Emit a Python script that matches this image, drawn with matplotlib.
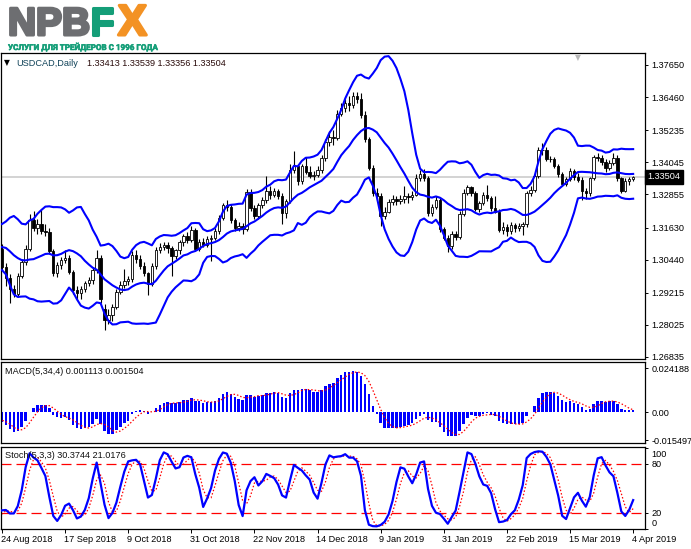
import numpy as np
import pandas as pd
import matplotlib
matplotlib.use("Agg")
import matplotlib.pyplot as plt
import matplotlib.patheffects as pe
from matplotlib.transforms import blended_transform_factory, ScaledTranslation

# ---------------- data ----------------
# bars before the visible window (needed for the indicators)
lead_open = [1.3300, 1.3280, 1.3145, 1.3185, 1.3150, 1.3140, 1.3120, 1.3075, 1.3115, 1.3130,
             1.3175, 1.3140, 1.3155, 1.3165, 1.3185, 1.3200, 1.3235, 1.3145, 1.3170, 1.3125,
             1.3110, 1.3085, 1.3070, 1.3040, 1.3050, 1.3030, 1.3020, 1.3035, 1.3020, 1.3110,
             1.3120, 1.3135, 1.3140, 1.3100, 1.3145, 1.3140, 1.3090, 1.3060, 1.3050, 1.3060]
lead_high = [1.3320, 1.3295, 1.3200, 1.3195, 1.3170, 1.3160, 1.3135, 1.3125, 1.3145, 1.3185,
             1.3190, 1.3165, 1.3175, 1.3190, 1.3210, 1.3250, 1.3260, 1.3180, 1.3185, 1.3140,
             1.3125, 1.3100, 1.3085, 1.3065, 1.3060, 1.3045, 1.3050, 1.3045, 1.3125, 1.3135,
             1.3150, 1.3160, 1.3150, 1.3155, 1.3160, 1.3150, 1.3100, 1.3075, 1.3075, 1.3095]
lead_low = [1.3260, 1.3130, 1.3135, 1.3135, 1.3120, 1.3105, 1.3065, 1.3065, 1.3105, 1.3120,
            1.3130, 1.3125, 1.3140, 1.3155, 1.3175, 1.3190, 1.3140, 1.3140, 1.3115, 1.3100,
            1.3075, 1.3060, 1.3030, 1.3030, 1.3020, 1.3005, 1.3010, 1.3000, 1.3010, 1.3095,
            1.3110, 1.3125, 1.3090, 1.3090, 1.3125, 1.3080, 1.3050, 1.3040, 1.3040, 1.3050]
lead_close = [1.3280, 1.3145, 1.3185, 1.3150, 1.3140, 1.3120, 1.3075, 1.3115, 1.3130, 1.3175,
              1.3140, 1.3155, 1.3165, 1.3185, 1.3200, 1.3235, 1.3145, 1.3170, 1.3125, 1.3110,
              1.3085, 1.3070, 1.3040, 1.3050, 1.3030, 1.3020, 1.3035, 1.3020, 1.3110, 1.3120,
              1.3135, 1.3140, 1.3100, 1.3145, 1.3140, 1.3090, 1.3060, 1.3050, 1.3060, 1.3085]

# visible bars, 24 Aug 2018 ... 4 Apr 2019
bar_open = [1.3085, 1.3015, 1.2975, 1.2935, 1.2918, 1.2985, 1.3035, 1.3085, 1.3190, 1.3160,
            1.3175, 1.3150, 1.3145, 1.3075, 1.2995, 1.3025, 1.3043, 1.3050, 1.2997, 1.2932,
            1.2920, 1.2935, 1.2956, 1.2969, 1.3006, 1.3050, 1.2860, 1.2820, 1.2840, 1.2870,
            1.2925, 1.2950, 1.2965, 1.2972, 1.3062, 1.3045, 1.3022, 1.2995, 1.2955, 1.3020,
            1.3080, 1.3092, 1.3100, 1.3088, 1.3058, 1.3078, 1.3110, 1.3130, 1.3118, 1.3155,
            1.3085, 1.3110, 1.3100, 1.3122, 1.3125, 1.3150, 1.3200, 1.3245, 1.3240, 1.3190,
            1.3160, 1.3170, 1.3158, 1.3295, 1.3235, 1.3205, 1.3245, 1.3265, 1.3300, 1.3285,
            1.3300, 1.3280, 1.3215, 1.3260, 1.3375, 1.3390, 1.3335, 1.3390, 1.3370, 1.3355,
            1.3358, 1.3375, 1.3420, 1.3480, 1.3500, 1.3495, 1.3585, 1.3605, 1.3625, 1.3615,
            1.3650, 1.3640, 1.3580, 1.3490, 1.3385, 1.3290, 1.3280, 1.3205, 1.3222, 1.3258,
            1.3270, 1.3262, 1.3268, 1.3280, 1.3275, 1.3285, 1.3348, 1.3362, 1.3345, 1.3215,
            1.3240, 1.3265, 1.3158, 1.3125, 1.3095, 1.3138, 1.3128, 1.3212, 1.3290, 1.3312,
            1.3290, 1.3232, 1.3255, 1.3285, 1.3272, 1.3235, 1.3222, 1.3155, 1.3165, 1.3150,
            1.3172, 1.3160, 1.3168, 1.3175, 1.3290, 1.3302, 1.3355, 1.3450, 1.3452, 1.3415,
            1.3418, 1.3390, 1.3360, 1.3325, 1.3342, 1.3372, 1.3350, 1.3340, 1.3300, 1.3290,
            1.3345, 1.3425, 1.3422, 1.3405, 1.3382, 1.3402, 1.3420, 1.3345, 1.3300, 1.3335,
            1.33413]
bar_high = [1.3102, 1.3030, 1.2990, 1.2950, 1.2995, 1.3045, 1.3100, 1.3212, 1.3225, 1.3195,
            1.3228, 1.3175, 1.3160, 1.3085, 1.3035, 1.3055, 1.3080, 1.3062, 1.3005, 1.2945,
            1.2945, 1.2965, 1.2980, 1.3015, 1.3080, 1.3060, 1.2880, 1.2860, 1.2880, 1.2935,
            1.2965, 1.3010, 1.2985, 1.3075, 1.3080, 1.3060, 1.3035, 1.3000, 1.3030, 1.3090,
            1.3105, 1.3110, 1.3108, 1.3095, 1.3085, 1.3118, 1.3140, 1.3145, 1.3170, 1.3162,
            1.3120, 1.3125, 1.3130, 1.3135, 1.3160, 1.3210, 1.3255, 1.3265, 1.3250, 1.3200,
            1.3185, 1.3180, 1.3305, 1.3305, 1.3245, 1.3255, 1.3275, 1.3355, 1.3315, 1.3310,
            1.3305, 1.3290, 1.3270, 1.3400, 1.3445, 1.3400, 1.3400, 1.3425, 1.3392, 1.3372,
            1.3390, 1.3430, 1.3490, 1.3520, 1.3525, 1.3600, 1.3625, 1.3640, 1.3650, 1.3665,
            1.3665, 1.3660, 1.3595, 1.3500, 1.3395, 1.3310, 1.3290, 1.3240, 1.3270, 1.3285,
            1.3280, 1.3285, 1.3315, 1.3290, 1.3300, 1.3360, 1.3375, 1.3380, 1.3355, 1.3250,
            1.3280, 1.3275, 1.3165, 1.3135, 1.3150, 1.3150, 1.3225, 1.3305, 1.3320, 1.3318,
            1.3300, 1.3262, 1.3295, 1.3320, 1.3280, 1.3280, 1.3230, 1.3185, 1.3175, 1.3185,
            1.3180, 1.3178, 1.3185, 1.3298, 1.3315, 1.3365, 1.3460, 1.3475, 1.3460, 1.3428,
            1.3425, 1.3398, 1.3370, 1.3350, 1.3385, 1.3380, 1.3365, 1.3350, 1.3310, 1.3350,
            1.3432, 1.3440, 1.3430, 1.3418, 1.3412, 1.3440, 1.3430, 1.3352, 1.3345, 1.3350,
            1.33539]
bar_low = [1.3005, 1.2945, 1.2885, 1.2905, 1.2905, 1.2975, 1.3025, 1.3075, 1.3150, 1.3140,
           1.3140, 1.3130, 1.3065, 1.2985, 1.2980, 1.3010, 1.3030, 1.2990, 1.2915, 1.2895,
           1.2900, 1.2925, 1.2945, 1.2955, 1.2995, 1.2885, 1.2785, 1.2805, 1.2815, 1.2860,
           1.2915, 1.2940, 1.2950, 1.2960, 1.3030, 1.3010, 1.2985, 1.2913, 1.2945, 1.3010,
           1.3070, 1.3080, 1.3070, 1.2985, 1.3045, 1.3065, 1.3095, 1.3105, 1.3110, 1.3075,
           1.3075, 1.3090, 1.3092, 1.3040, 1.3115, 1.3140, 1.3190, 1.3225, 1.3180, 1.3150,
           1.3150, 1.3140, 1.3150, 1.3225, 1.3195, 1.3195, 1.3235, 1.3255, 1.3270, 1.3275,
           1.3270, 1.3175, 1.3200, 1.3255, 1.3365, 1.3320, 1.3325, 1.3360, 1.3345, 1.3340,
           1.3350, 1.3365, 1.3410, 1.3465, 1.3470, 1.3488, 1.3575, 1.3590, 1.3595, 1.3605,
           1.3625, 1.3570, 1.3480, 1.3375, 1.3280, 1.3265, 1.3170, 1.3195, 1.3215, 1.3245,
           1.3245, 1.3250, 1.3255, 1.3255, 1.3265, 1.3280, 1.3335, 1.3335, 1.3205, 1.3205,
           1.3230, 1.3145, 1.3115, 1.3074, 1.3085, 1.3115, 1.3120, 1.3205, 1.3285, 1.3280,
           1.3225, 1.3220, 1.3245, 1.3260, 1.3225, 1.3215, 1.3145, 1.3140, 1.3130, 1.3140,
           1.3148, 1.3150, 1.3135, 1.3165, 1.3280, 1.3295, 1.3345, 1.3430, 1.3410, 1.3405,
           1.3385, 1.3350, 1.3315, 1.3315, 1.3335, 1.3340, 1.3330, 1.3265, 1.3268, 1.3280,
           1.3340, 1.3410, 1.3395, 1.3370, 1.3375, 1.3395, 1.3335, 1.3290, 1.3295, 1.3320,
           1.33356]
bar_close = [1.3015, 1.2975, 1.2935, 1.2918, 1.2985, 1.3035, 1.3085, 1.3190, 1.3160, 1.3175,
             1.3150, 1.3145, 1.3075, 1.2995, 1.3025, 1.3043, 1.3050, 1.2997, 1.2932, 1.2920,
             1.2935, 1.2956, 1.2969, 1.3006, 1.3050, 1.2900, 1.2820, 1.2840, 1.2870, 1.2925,
             1.2950, 1.2965, 1.2972, 1.3062, 1.3045, 1.3022, 1.2995, 1.2955, 1.3020, 1.3080,
             1.3092, 1.3100, 1.3088, 1.3058, 1.3078, 1.3110, 1.3130, 1.3118, 1.3155, 1.3085,
             1.3110, 1.3100, 1.3122, 1.3125, 1.3150, 1.3200, 1.3245, 1.3240, 1.3190, 1.3160,
             1.3170, 1.3158, 1.3295, 1.3235, 1.3205, 1.3245, 1.3265, 1.3300, 1.3285, 1.3300,
             1.3280, 1.3215, 1.3260, 1.3375, 1.3390, 1.3335, 1.3390, 1.3370, 1.3355, 1.3358,
             1.3375, 1.3420, 1.3480, 1.3500, 1.3495, 1.3585, 1.3605, 1.3625, 1.3615, 1.3650,
             1.3640, 1.3580, 1.3490, 1.3385, 1.3290, 1.3280, 1.3205, 1.3222, 1.3258, 1.3270,
             1.3262, 1.3268, 1.3280, 1.3275, 1.3285, 1.3348, 1.3362, 1.3345, 1.3215, 1.3240,
             1.3265, 1.3158, 1.3125, 1.3095, 1.3138, 1.3128, 1.3212, 1.3290, 1.3312, 1.3290,
             1.3232, 1.3255, 1.3285, 1.3272, 1.3235, 1.3222, 1.3155, 1.3165, 1.3150, 1.3172,
             1.3160, 1.3168, 1.3175, 1.3290, 1.3302, 1.3355, 1.3450, 1.3452, 1.3415, 1.3418,
             1.3390, 1.3360, 1.3325, 1.3342, 1.3372, 1.3350, 1.3340, 1.3300, 1.3290, 1.3345,
             1.3425, 1.3422, 1.3405, 1.3382, 1.3402, 1.3420, 1.3345, 1.3300, 1.3335, 1.3341,
             1.33504]

date_labels = ["24 Aug 2018", "17 Sep 2018", "9 Oct 2018", "31 Oct 2018", "22 Nov 2018",
               "14 Dec 2018", "9 Jan 2019", "31 Jan 2019", "22 Feb 2019", "15 Mar 2019",
               "4 Apr 2019"]
date_label_bars = [0, 16, 32, 48, 64, 80, 96, 112, 128, 144, 160]
price_ticks = [1.37650, 1.36460, 1.35235, 1.34045, 1.32855, 1.31630, 1.30440,
               1.29215, 1.28025, 1.26835]
macd_ticks = [0.024188, 0.0, -0.015497]
macd_tick_labels = ["0.024188", "0.00", "-0.015497"]
stoch_ticks = [100, 80, 20, 0]
stoch_levels = [80, 20]

title_name = "USDCAD,Daily"
title_values = "1.33413 1.33539 1.33356 1.33504"
macd_label = "MACD(5,34,4) 0.001113 0.001504"
stoch_label = "Stoch(5,3,3) 30.3744 21.0176"

# ---------------- computations ----------------
o = np.array(lead_open + bar_open)
h = np.array(lead_high + bar_high)
l = np.array(lead_low + bar_low)
c = np.array(lead_close + bar_close)
n_lead = len(lead_close)
x = np.arange(len(c)) - n_lead

BB_PERIOD, BB_DEV = 14, 2.0
cs = pd.Series(c)
bb_mid = cs.rolling(BB_PERIOD).mean()
bb_sd = cs.rolling(BB_PERIOD).std(ddof=0)
bb_up = bb_mid + BB_DEV * bb_sd
bb_lo = bb_mid - BB_DEV * bb_sd

macd = cs.ewm(span=5, adjust=False).mean() - cs.ewm(span=34, adjust=False).mean()
macd_sig = macd.rolling(4).mean()

hs, ls = pd.Series(h), pd.Series(l)
ll5 = ls.rolling(5).min()
hh5 = hs.rolling(5).max()
st_k = 100 * (cs - ll5).rolling(3).sum() / (hh5 - ll5).rolling(3).sum()
st_d = st_k.rolling(3).mean()

# ---------------- figure ----------------
W, H = 691, 549
fig = plt.figure(figsize=(W / 100, H / 100), dpi=100)
fig.patch.set_facecolor("white")

def rect(left, top, right, bottom):
    return [left / W, 1 - bottom / H, (right - left) / W, (bottom - top) / H]

FONT = ["Liberation Sans", "DejaVu Sans"]
FS = 6.6
plt.rcParams["font.family"] = FONT

ax1 = fig.add_axes(rect(1, 53, 645, 359))
ax2 = fig.add_axes(rect(1, 362, 645, 443))
ax3 = fig.add_axes(rect(1, 447, 645, 529))

XL = (-0.25, 163.0)
for ax in (ax1, ax2, ax3):
    ax.set_xlim(*XL)
    ax.set_facecolor("white")
    for sp in ax.spines.values():
        sp.set_color("black")
        sp.set_linewidth(0.9)
    ax.yaxis.tick_right()
    ax.tick_params(axis="y", direction="out", length=2.5, width=0.7, pad=2,
                   labelsize=FS, colors="black")
    ax.tick_params(axis="x", bottom=False, labelbottom=False)

# main price panel
k1 = (1.37650 - 1.26835) / (357 - 65)
ax1.set_ylim(1.26835 - (359 - 357) * k1, 1.37650 + (65 - 53) * k1)
ax1.set_yticks(price_ticks)
ax1.set_yticklabels(["%.5f" % v for v in price_ticks])

last = bar_close[-1]
ax1.axhline(last, color="#c8c8c8", lw=1.1, zorder=1)

up = c >= o
body = np.maximum(np.abs(c - o), 0.00004)
bottom = np.minimum(o, c)
ax1.vlines(x, l, h, color="black", lw=0.8, zorder=2)
ax1.bar(x[up], body[up], bottom=bottom[up], width=0.62, facecolor="white",
        edgecolor="black", linewidth=0.6, zorder=3)
ax1.bar(x[~up], body[~up], bottom=bottom[~up], width=0.62, facecolor="black",
        edgecolor="black", linewidth=0.6, zorder=3)
for band in (bb_up, bb_mid, bb_lo):
    ax1.plot(x, band, color="#0000ff", lw=1.5, zorder=4, solid_joinstyle="round")

ax1.text(1.004, last, "1.33504", transform=blended_transform_factory(ax1.transAxes, ax1.transData),
         color="white", fontsize=FS, ha="left", va="center", zorder=10, clip_on=False,
         bbox=dict(boxstyle="square,pad=0.25", facecolor="black", edgecolor="black"))

# MACD panel
k2 = 0.024188 / (412 - 368)
ax2.set_ylim(-(443 - 412) * k2, 0.024188 + (368 - 362) * k2)
ax2.bar(x, macd, width=0.62, color="#0000ff", zorder=2)
ax2.plot(x, macd_sig, color="#ff0000", lw=0.9, ls=(0, (1.2, 1.6)), zorder=3)
ax2.set_yticks(macd_ticks)
ax2.set_yticklabels(macd_tick_labels)

# Stochastic panel
k3 = 60 / (513 - 464)
ax3.set_ylim(20 - (529 - 513) * k3, 80 + (464 - 447) * k3)
ax3.plot(x, st_k, color="#0000ff", lw=1.6, zorder=3, solid_joinstyle="round")
ax3.plot(x, st_d, color="#ff0000", lw=0.9, ls=(0, (1.2, 1.6)), zorder=2)
for lev in stoch_levels:
    ax3.axhline(lev, color="#ff0000", lw=0.9, ls=(0, (8, 4)), zorder=1)
ax3.set_yticks(stoch_ticks)
ax3.set_yticklabels([str(v) for v in stoch_ticks])
for lab, v in zip(ax3.get_yticklabels(), stoch_ticks):
    if v == 100:
        lab.set_transform(lab.get_transform() + ScaledTranslation(0, -4.5 / 72, fig.dpi_scale_trans))
    if v == 0:
        lab.set_transform(lab.get_transform() + ScaledTranslation(0, 4.5 / 72, fig.dpi_scale_trans))

ax3.tick_params(axis="x", bottom=True, labelbottom=True, direction="out", length=3,
                width=0.7, pad=1.5, labelsize=FS, colors="black")
ax3.set_xticks(date_label_bars)
ax3.set_xticklabels(date_labels, ha="left")
for lab in ax3.get_xticklabels():
    lab.set_transform(lab.get_transform() + ScaledTranslation(-1.0 / 72, 0, fig.dpi_scale_trans))

# panel captions
def ftext(px, py, s, **kw):
    fig.text(px / W, 1 - py / H, s, **kw)

ftext(4, 63, "\u25BC", fontsize=5.5, color="black", va="center", ha="left",
      family=["DejaVu Sans"])
ftext(16, 63, title_name, fontsize=FS, color="#0f4258", va="center", ha="left")
ftext(87, 63, title_values, fontsize=FS, color="#2a0c0c", va="center", ha="left")
ftext(5, 371, macd_label, fontsize=FS, color="#101010", va="center", ha="left")
ftext(5, 455, stoch_label, fontsize=FS, color="#101010", va="center", ha="left")
ftext(578, 58, "\u25BC", fontsize=5.5, color="#b8b8b8", va="center", ha="center",
      family=["DejaVu Sans"])

# logo
logo_grey = "#6d6e71"
logo_green = "#149e78"
logo_orange = "#f39224"
for ch, px, col, fsz in [("N", 8, logo_grey, 28), ("P", 36, logo_grey, 28),
                         ("B", 62, logo_grey, 28), ("F", 90, logo_green, 28),
                         ("X", 118, logo_orange, 31)]:
    fig.text(px / W, 1 - 35 / H, ch, fontsize=fsz, fontweight="bold", color=col,
             ha="left", va="baseline", family=["Liberation Sans", "DejaVu Sans"],
             path_effects=[pe.withStroke(linewidth=2.2, foreground=col)])
fig.text(8 / W, 1 - 50 / H, "УСЛУГИ ДЛЯ ТРЕЙДЕРОВ С 1996 ГОДА", fontsize=5.8,
         fontweight="bold", color=logo_green, ha="left", va="baseline",
         family=["Roboto", "Liberation Sans", "DejaVu Sans"],
         path_effects=[pe.withStroke(linewidth=0.4, foreground=logo_green)])

fig.savefig("out.png", dpi=100, facecolor="white")
